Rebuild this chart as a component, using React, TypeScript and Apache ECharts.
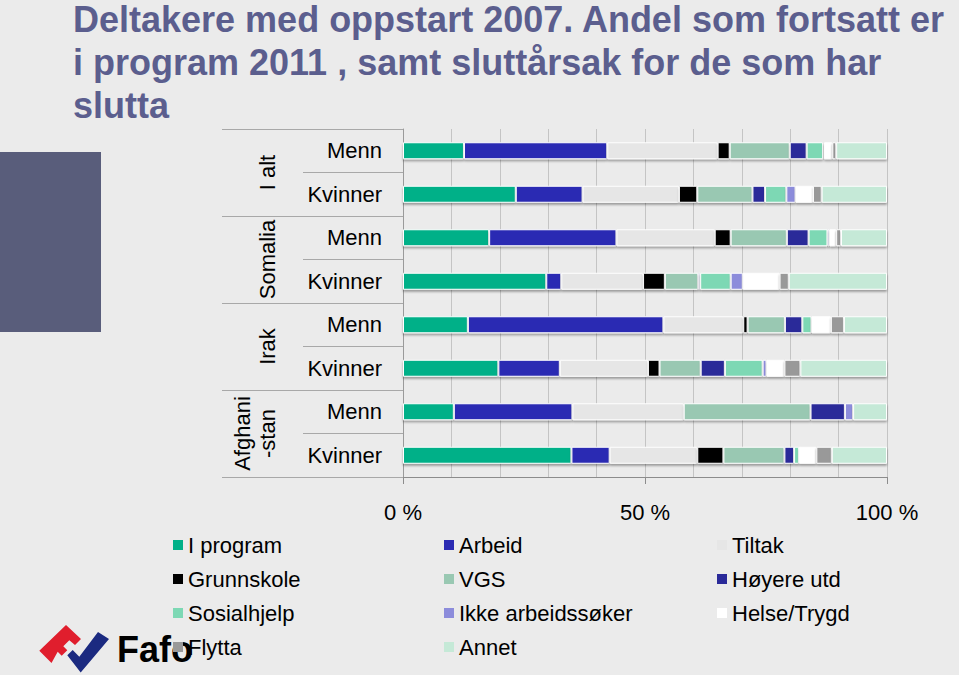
import React, { useEffect, useRef } from 'react';
import * as echarts from 'echarts';

const groups = ['I alt', 'Somalia', 'Irak', 'Afghani\n-stan'];
const genders = ['Menn', 'Kvinner'];
const xTicks = [0, 50, 100];

const seriesNames = [
  'I program', 'Arbeid', 'Tiltak', 'Grunnskole', 'VGS', 'Høyere utd',
  'Sosialhjelp', 'Ikke arbeidssøker', 'Helse/Trygd', 'Flytta', 'Annet',
];
const seriesColors = [
  '#00b088', '#2b2bb3', '#e6e6e6', '#000000', '#99c8b2', '#2a2a99',
  '#7dd8b4', '#8c8cdb', '#ffffff', '#999999', '#c5e9d7',
];

// Order: I alt M, I alt K, Somalia M, Somalia K, Irak M, Irak K, Afghanistan M, Afghanistan K
const iProgram = [12.6, 23.3, 17.8, 29.6, 13.4, 19.7, 10.5, 34.8];
const arbeid = [29.6, 13.8, 26.3, 3.1, 40.4, 12.7, 24.5, 7.9];
const tiltak = [22.8, 19.9, 20.3, 16.9, 16.5, 18.2, 23.0, 18.1];
const grunnskole = [2.5, 3.8, 3.3, 4.5, 0.9, 2.4, 0, 5.4];
const vgs = [12.4, 11.4, 11.6, 6.9, 7.7, 8.5, 26.2, 12.6];
const hoyereUtd = [3.5, 2.6, 4.5, 0.4, 3.6, 5.0, 7.1, 2.0];
const sosialhjelp = [3.4, 4.4, 3.9, 6.3, 1.9, 7.8, 0, 1.0];
const ikkeArbeidssoker = [0.2, 1.9, 0.4, 2.5, 0, 0.8, 1.7, 0];
const helseTrygd = [1.7, 3.6, 1.4, 7.6, 4.0, 3.7, 0, 3.6];
const flytta = [0.8, 1.8, 1.0, 1.9, 2.7, 3.3, 0, 3.2];
const annet = [10.5, 13.5, 9.5, 20.3, 8.9, 17.9, 7.0, 11.4];

const seriesValues = [
  iProgram, arbeid, tiltak, grunnskole, vgs, hoyereUtd,
  sosialhjelp, ikkeArbeidssoker, helseTrygd, flytta, annet,
];

const legendColumns = [
  ['I program', 'Grunnskole', 'Sosialhjelp', 'Flytta'],
  ['Arbeid', 'VGS', 'Ikke arbeidssøker', 'Annet'],
  ['Tiltak', 'Høyere utd', 'Helse/Trygd'],
];
const legendLefts = [173, 444, 717];

const titleLines = [
  'Deltakere med oppstart 2007. Andel som fortsatt er',
  'i program 2011 , samt sluttårsak for de som har',
  'slutta',
];

export default function App() {
  const ref = useRef<HTMLDivElement>(null);

  useEffect(() => {
    if (!ref.current) return;
    const chart = echarts.init(ref.current, null, { renderer: 'svg' });

    const categories: string[] = [];
    groups.forEach((g) => genders.forEach((s) => categories.push(g + '|' + s)));

    const gridColor = '#c4c4c4';
    const axisColor = '#8c8c8c';

    const option: any = {
      animation: false,
      backgroundColor: '#ebebeb',
      textStyle: { fontFamily: "'Liberation Sans', Arial, sans-serif" },
      title: titleLines.map((line, i) => ({
        text: line,
        left: 73,
        top: 1 + i * 43,
        padding: 0,
        textStyle: {
          fontFamily: "'Liberation Sans Narrow', 'Arial Narrow', 'Liberation Sans', sans-serif",
          fontWeight: 'bold',
          fontSize: 36,
          lineHeight: 36,
          color: '#5b5e8e',
        },
      })),
      grid: {
        left: 403,
        right: 72,
        top: 129,
        bottom: 198,
        containLabel: false,
        outerBoundsMode: 'none',
      },
      legend: legendColumns.map((col, i) => ({
        data: col,
        orient: 'vertical',
        left: legendLefts[i],
        top: 533,
        padding: 0,
        icon: 'rect',
        itemWidth: 10,
        itemHeight: 10,
        itemGap: 10,
        selectedMode: false,
        itemStyle: { borderWidth: 0, shadowBlur: 0, shadowColor: 'transparent', shadowOffsetY: 0 },
        textStyle: {
          fontSize: 22,
          lineHeight: 24,
          color: '#000',
          fontFamily: "'Liberation Sans', Arial, sans-serif",
        },
      })),
      xAxis: {
        type: 'value',
        min: 0,
        max: 100,
        interval: 50,
        axisLine: { show: true, lineStyle: { color: axisColor, width: 1 } },
        axisTick: { show: true, length: 7, lineStyle: { color: axisColor } },
        minorTick: { show: false, splitNumber: 5 },
        splitLine: { show: true, lineStyle: { color: gridColor, width: 1 } },
        minorSplitLine: { show: true, lineStyle: { color: gridColor, width: 1 } },
        axisLabel: {
          formatter: (v: number) => (xTicks.includes(v) ? v + ' %' : ''),
          fontSize: 22,
          color: '#000',
          margin: 24,
          fontFamily: "'Liberation Sans', Arial, sans-serif",
        },
      },
      yAxis: [
        {
          type: 'category',
          inverse: true,
          data: categories,
          axisLine: { show: true, lineStyle: { color: '#9a9a9a' } },
          axisTick: { show: true, length: 100, alignWithLabel: false, interval: 0, lineStyle: { color: '#a8a8a8' } },
          axisLabel: {
            interval: 0,
            margin: 21,
            fontSize: 22,
            color: '#000',
            fontFamily: "'Liberation Sans', Arial, sans-serif",
            formatter: (v: string) => v.split('|')[1],
          },
        },
        {
          type: 'category',
          inverse: true,
          position: 'left',
          data: groups,
          axisLine: { show: false },
          axisTick: { show: true, length: 181, alignWithLabel: false, interval: 0, lineStyle: { color: '#a8a8a8' } },
          axisLabel: {
            interval: 0,
            rotate: 90,
            margin: 123,
            fontSize: 22,
            lineHeight: 25,
            color: '#000',
            fontFamily: "'Liberation Sans', Arial, sans-serif",
          },
        },
      ],
      series: seriesNames.map((name, i) => ({
        name,
        type: 'bar',
        stack: 'total',
        yAxisIndex: 0,
        barWidth: 17,
        data: seriesValues[i],
        itemStyle: {
          color: seriesColors[i],
          borderColor: '#ffffff',
          borderWidth: 1,
          shadowColor: 'rgba(0,0,0,0.35)',
          shadowBlur: 2,
          shadowOffsetY: 2,
        },
      })),
      graphic: [
        {
          type: 'rect',
          shape: { x: 0, y: 152, width: 101, height: 180 },
          style: { fill: '#595d7b' },
        },
        {
          type: 'polygon',
          shape: {
            points: [
              [39.3, 650.7], [66, 625], [81, 639], [75, 645], [69.3, 640.3],
              [63.3, 646.3], [67.3, 650.3], [61.7, 655.7], [57.7, 651.7], [51.5, 663],
            ],
          },
          style: { fill: '#e01e2d' },
        },
        {
          type: 'polygon',
          shape: {
            points: [
              [67.3, 655.3], [72.7, 650], [79.3, 656.7], [98, 632], [109, 639], [80.7, 672.5],
            ],
          },
          style: { fill: '#1b2a80' },
        },
        {
          type: 'text',
          x: 117,
          y: 631,
          style: {
            text: 'Fafo',
            fontSize: 36,
            fontWeight: 'bold',
            fontFamily: "'Liberation Sans', Arial, sans-serif",
            fill: '#000',
          },
        },
      ],
    };

    chart.setOption(option);
    return () => chart.dispose();
  }, []);

  return (
    <div
      ref={ref}
      style={{ position: 'absolute', left: 0, top: 0, width: 959, height: 675, background: '#ebebeb' }}
    />
  );
}
